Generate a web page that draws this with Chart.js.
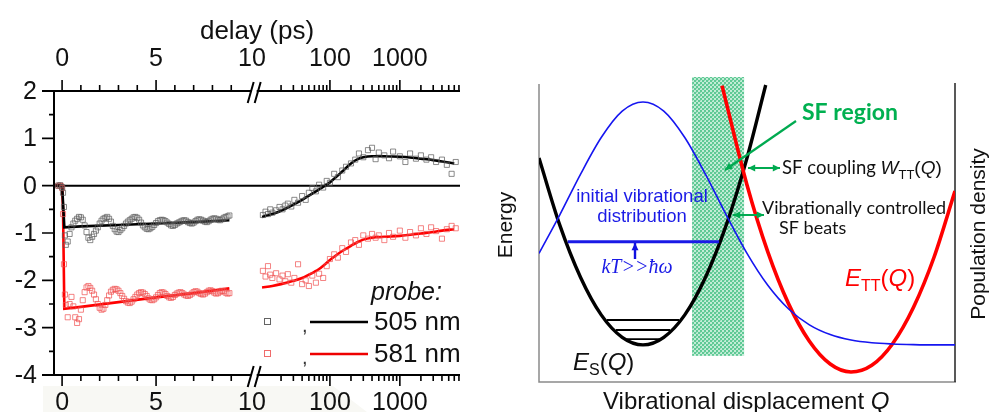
<!DOCTYPE html>
<html lang="en">
<head>
<meta charset="UTF-8">
<title>SF transients and schematic</title>
<script src="https://cdn.jsdelivr.net/npm/chart.js"></script>
<style>
    body { margin: 0; background: #fff; }
    #wrap { position: relative; width: 991px; height: 412px; overflow: hidden; }
    canvas { position: absolute; top: 0; }
    #left { left: 0; }
    #right { left: 490px; }
</style>
</head>
<body>
<div id="wrap">
    <canvas id="left" width="490" height="412"></canvas>
    <canvas id="right" width="501" height="412"></canvas>
</div>
<script>
// ---------- left panel: transient data (delay in ps) ----------
const tShort = [-0.2, -0.1, 0, 0.05, 0.1, 0.15, 0.2, 0.3, 0.4, 0.5, 0.6, 0.7, 0.8, 0.9,
    1.0, 1.1, 1.2, 1.3, 1.4, 1.5, 1.6, 1.7, 1.8, 1.9, 2.0, 2.1, 2.2, 2.3, 2.4, 2.5, 2.6, 2.7, 2.8, 2.9,
    3.0, 3.1, 3.2, 3.3, 3.4, 3.5, 3.6, 3.7, 3.8, 3.9, 4.0, 4.1, 4.2, 4.3, 4.4, 4.5, 4.6, 4.7, 4.8, 4.9,
    5.0, 5.1, 5.2, 5.3, 5.4, 5.5, 5.6, 5.7, 5.8, 5.9, 6.0, 6.1, 6.2, 6.3, 6.4, 6.5, 6.6, 6.7, 6.8, 6.9,
    7.0, 7.1, 7.2, 7.3, 7.4, 7.5, 7.6, 7.7, 7.8, 7.9, 8.0, 8.1, 8.2, 8.3, 8.4, 8.5, 8.6, 8.7, 8.8, 8.9];
const probe505Short = [0.00, 0.01, -0.03, -0.15, -0.45, -1.05, -1.25, -1.18, -1.02, -0.88, -0.80, -0.74, -0.70, -0.66,
    -0.67, -0.72, -0.84, -0.98, -1.10, -1.15, -1.08, -1.02, -0.95, -0.88, -0.80, -0.74, -0.70, -0.68, -0.66, -0.70, -0.76, -0.85, -0.92, -0.97,
    -0.98, -0.94, -0.90, -0.85, -0.80, -0.76, -0.73, -0.70, -0.67, -0.66, -0.68, -0.72, -0.78, -0.84, -0.88, -0.91, -0.92, -0.90, -0.87, -0.83,
    -0.79, -0.75, -0.73, -0.72, -0.73, -0.75, -0.78, -0.81, -0.84, -0.85, -0.83, -0.80, -0.78, -0.76, -0.74, -0.73, -0.74, -0.77, -0.79, -0.80,
    -0.78, -0.75, -0.72, -0.71, -0.72, -0.74, -0.76, -0.77, -0.75, -0.72, -0.70, -0.69, -0.70, -0.72, -0.73, -0.71, -0.68, -0.66, -0.65, -0.63];
const probe581Short = [0.00, 0.00, -0.05, -0.60, -1.66, -2.30, -2.52, -2.78, -2.50, -2.35, -2.55, -2.78, -2.90, -2.82,
    -2.62, -2.42, -2.25, -2.15, -2.12, -2.16, -2.22, -2.30, -2.40, -2.50, -2.58, -2.62, -2.60, -2.52, -2.42, -2.32, -2.24, -2.20, -2.18, -2.19,
    -2.22, -2.27, -2.33, -2.39, -2.44, -2.47, -2.48, -2.45, -2.40, -2.35, -2.30, -2.27, -2.25, -2.26, -2.29, -2.33, -2.38, -2.41, -2.42, -2.40,
    -2.36, -2.31, -2.27, -2.25, -2.26, -2.29, -2.33, -2.36, -2.37, -2.35, -2.31, -2.28, -2.26, -2.25, -2.27, -2.30, -2.32, -2.33, -2.31, -2.28,
    -2.25, -2.23, -2.24, -2.27, -2.29, -2.30, -2.28, -2.25, -2.22, -2.21, -2.23, -2.26, -2.28, -2.27, -2.24, -2.22, -2.23, -2.26, -2.28, -2.27];

const tLong = [11, 12, 13, 14, 15, 17, 19, 21, 23, 25, 28, 31, 35, 40, 45, 50, 56, 63, 70, 80, 90, 100,
    115, 130, 150, 170, 200, 230, 260, 300, 350, 400, 450, 500, 600, 700, 800, 1000,
    1200, 1400, 1700, 2000, 2400, 2800, 3300, 4000, 4700, 5500, 6300];
const probe505Long = [-0.62, -0.55, -0.60, -0.50, -0.57, -0.52, -0.45, -0.50, -0.42, -0.38, -0.44, -0.30, -0.36, -0.22, -0.30, -0.15, -0.05, -0.12, 0.02, -0.04, 0.10, 0.06,
    0.25, 0.18, 0.32, 0.40, 0.47, 0.55, 0.68, 0.60, 0.75, 0.80, 0.56, 0.70, 0.64, 0.58, 0.72, 0.62,
    0.50, 0.68, 0.57, 0.64, 0.55, 0.60, 0.50, 0.55, 0.44, 0.25, 0.50];
const probe581Long = [-1.80, -1.92, -1.70, -1.88, -1.95, -1.85, -1.98, -1.90, -2.02, -1.87, -2.05, -1.95, -1.66, -2.08, -2.00, -2.12, -1.90, -2.05, -1.86, -1.95, -1.70, -1.55,
    -1.45, -1.52, -1.32, -1.40, -1.20, -1.15, -1.25, -1.05, -1.12, -1.02, -1.10, -1.05, -1.15, -1.00, -1.08, -0.95,
    -1.10, -0.98, -1.05, -0.90, -1.02, -0.88, -0.96, -1.12, -0.92, -0.85, -0.90];

const fitShortT = [-0.4, 0, 0.05, 0.12, 1, 3, 5, 7, 8.9];
const fit505Short = [0, 0, -0.35, -0.88, -0.86, -0.83, -0.80, -0.77, -0.73];
const fit581Short = [0, 0.02, -0.5, -2.6, -2.56, -2.46, -2.36, -2.27, -2.17];
const fitLongT = [10.7, 15, 20, 30, 40, 50, 60, 70, 85, 100, 120, 150, 200, 250, 300, 400, 600, 1000, 1500, 2000, 3000, 4000, 6000];
const fit505Long = [-0.66, -0.60, -0.53, -0.40, -0.30, -0.21, -0.14, -0.08, 0.00, 0.07, 0.17, 0.30, 0.47, 0.56, 0.60, 0.62, 0.62, 0.61, 0.59, 0.57, 0.54, 0.51, 0.47];
const fit581Long = [-2.15, -2.12, -2.08, -2.01, -1.95, -1.88, -1.82, -1.76, -1.66, -1.57, -1.48, -1.38, -1.27, -1.19, -1.14, -1.10, -1.08, -1.06, -1.03, -1.01, -0.98, -0.95, -0.92];

const yTickValues = [2, 1, 0, -1, -2, -3, -4];
const xTickLabels = ['0', '5', '10', '100', '1000'];
const xTickValues = [0, 5, 10, 100, 1000];
const linMajor = [0, 5];
const linMinor = [1, 2, 3, 4, 6, 7, 8, 9];
const logMajor = [100, 1000];
const logMinor = [20, 30, 40, 50, 60, 70, 80, 90, 200, 300, 400, 500, 600, 700, 800, 900, 2000, 3000, 4000, 5000, 6000, 7000];
const legendLabels = ['505 nm', '581 nm'];

// ---------- right panel: schematic curves (Q and energy in arbitrary units) ----------
const popQ = [0, 5, 10, 15, 20, 25, 30, 35, 40, 45, 50, 55, 60, 65, 70, 75, 80, 85, 90, 95, 100];
const popDensity = [42.3, 55.0, 68.4, 80.5, 89.1, 92.1, 89.1, 80.5, 68.4, 55.0, 42.3, 31.8, 24.0, 18.8, 15.6, 13.8, 12.9, 12.5, 12.3, 12.2, 12.2];
const esQ = [0, 5, 10, 15, 20, 25, 30, 35, 40, 45, 50, 54.5];
const esEnergy = [73.7, 51.6, 34.4, 22.0, 14.7, 12.2, 14.7, 22.0, 34.4, 51.6, 73.7, 97.7];
const ettQ = [44, 50, 55, 60, 65, 70, 75, 80, 85, 90, 95, 100];
const ettEnergy = [97.5, 64.8, 42.8, 25.7, 13.4, 5.9, 3.3, 5.5, 12.6, 24.5, 41.2, 62.8];
const distQ = [6.9, 43.3];
const distEnergy = 46.1;
const levelEnergy = [20.4, 17.1, 14.1];
const levelQStart = [16.3, 18.5, 21.0];
const levelQEnd = [33.7, 31.5, 29.0];
const sfBandQ = [36.8, 49.3];
const sfBandEnergy = [8.6, 100];

const SANS = '"Liberation Sans", Arial, sans-serif';

// broken delay axis: linear up to 10 ps, then log decades
function pos(t) {
    return t <= 10 ? t : 10.53 + (Math.log10(t) - 1) * 3.72;
}
const labelPos = v => (v === 10 ? 10.1 : pos(v));
const pts = (xs, ys) => xs.map((t, i) => ({ x: pos(t), y: ys[i] }));

const leftDecor = {
    id: 'leftDecor',
    beforeDatasetsDraw(chart) {
        const { ctx, chartArea: a, scales: { y } } = chart;
        ctx.save();
        // faint grey scan shadow under the bottom labels
        ctx.fillStyle = '#f8f8f4';
        ctx.beginPath();
        ctx.moveTo(43, 386); ctx.lineTo(333, 386); ctx.lineTo(367, 412); ctx.lineTo(43, 412);
        ctx.closePath();
        ctx.fill();

        ctx.strokeStyle = '#000';
        ctx.lineWidth = 2;
        const y0 = y.getPixelForValue(0);
        ctx.beginPath();
        ctx.moveTo(a.left, y0);
        ctx.lineTo(a.right, y0);
        ctx.stroke();
        ctx.restore();
    },
    afterDraw(chart) {
        const { ctx, chartArea: a, scales: { x, y } } = chart;
        ctx.save();
        ctx.strokeStyle = '#000';
        ctx.fillStyle = '#111';
        ctx.lineWidth = 2;

        // frame (no right side)
        ctx.beginPath();
        ctx.moveTo(a.left - 12, a.top); ctx.lineTo(a.right, a.top);
        ctx.moveTo(a.left - 12, a.bottom); ctx.lineTo(a.right, a.bottom);
        ctx.moveTo(a.left, a.top); ctx.lineTo(a.left, a.bottom);
        ctx.stroke();

        // y ticks
        ctx.lineWidth = 1.6;
        ctx.beginPath();
        for (let v = -3.5; v < 2; v += 1) {
            const py = y.getPixelForValue(v);
            ctx.moveTo(a.left - 5, py); ctx.lineTo(a.left, py);
        }
        for (const v of yTickValues) {
            const py = y.getPixelForValue(v);
            ctx.moveTo(a.left - 12, py); ctx.lineTo(a.left, py);
        }
        ctx.stroke();

        // x ticks: outward on both top and bottom
        const ticks = [];
        linMajor.forEach(v => ticks.push([pos(v), 11]));
        linMinor.forEach(v => ticks.push([pos(v), 6]));
        logMajor.forEach(v => ticks.push([pos(v), 11]));
        logMinor.forEach(v => ticks.push([pos(v), 6]));
        ctx.beginPath();
        for (const [u, len] of ticks) {
            const px = x.getPixelForValue(u);
            ctx.moveTo(px, a.top); ctx.lineTo(px, a.top - len);
            ctx.moveTo(px, a.bottom); ctx.lineTo(px, a.bottom + len);
        }
        ctx.stroke();

        // axis break marks
        const xb = x.getPixelForValue(10.3);
        for (const ay of [a.top, a.bottom]) {
            ctx.fillStyle = '#fff';
            ctx.fillRect(xb - 4, ay - 3, 5, 6);
            ctx.strokeStyle = '#000';
            ctx.lineWidth = 2;
            ctx.beginPath();
            ctx.moveTo(xb - 8, ay + 12); ctx.lineTo(xb - 2, ay - 9);
            ctx.moveTo(xb - 1, ay + 12); ctx.lineTo(xb + 5, ay - 9);
            ctx.stroke();
        }

        // labels
        ctx.fillStyle = '#111';
        ctx.font = '25px ' + SANS;
        ctx.textAlign = 'right';
        ctx.textBaseline = 'middle';
        yTickValues.forEach(v => ctx.fillText(String(v), 37, y.getPixelForValue(v) + 1));
        ctx.textAlign = 'center';
        xTickValues.forEach((v, i) => {
            const px = x.getPixelForValue(labelPos(v));
            ctx.fillText(xTickLabels[i], px, 59);
            ctx.fillText(xTickLabels[i], px, 403);
        });
        ctx.font = '26px ' + SANS;
        ctx.fillText('delay (ps)', 257, 32);

        // legend
        ctx.textAlign = 'left';
        ctx.font = 'italic 25px ' + SANS;
        ctx.fillText('probe:', 371, 293);
        const legY = [322, 354];
        const legCol = ['#000', '#ee0000'];
        const legSym = ['rgba(60,60,60,0.8)', 'rgba(235,70,70,0.8)'];
        legY.forEach((ly, i) => {
            ctx.strokeStyle = legSym[i];
            ctx.lineWidth = 1;
            ctx.strokeRect(264.5, ly - 3.5, 6, 6);
            ctx.fillStyle = '#333';
            ctx.font = '20px ' + SANS;
            ctx.fillText(',', 302, ly + 4);
            ctx.strokeStyle = legCol[i];
            ctx.lineWidth = 2.5;
            ctx.beginPath();
            ctx.moveTo(310, ly); ctx.lineTo(368, ly);
            ctx.stroke();
            ctx.fillStyle = '#111';
            ctx.font = '26px ' + SANS;
            ctx.fillText(legendLabels[i], 374, ly + 1);
        });
        ctx.restore();
    }
};

const scatterStyle = col => ({
    showLine: false, pointStyle: 'rect', pointRadius: 3.6, borderWidth: 1,
    borderColor: col, backgroundColor: 'rgba(0,0,0,0)'
});
const fitStyle = (col, smooth) => ({
    showLine: true, pointRadius: 0, borderWidth: 2.6, borderColor: col,
    cubicInterpolationMode: smooth ? 'monotone' : 'default', tension: 0
});

new Chart(document.getElementById('left'), {
    type: 'scatter',
    data: {
        datasets: [
            { data: pts(tShort, probe505Short), ...scatterStyle('rgba(90,90,90,0.7)') },
            { data: pts(tLong, probe505Long), ...scatterStyle('rgba(90,90,90,0.7)') },
            { data: pts(tShort, probe581Short), ...scatterStyle('rgba(240,80,80,0.7)') },
            { data: pts(tLong, probe581Long), ...scatterStyle('rgba(240,80,80,0.7)') },
            { data: pts(fitShortT, fit505Short), ...fitStyle('#000', false) },
            { data: pts(fitLongT, fit505Long), ...fitStyle('#000', true) },
            { data: pts(fitShortT, fit581Short), ...fitStyle('#ff0000', false) },
            { data: pts(fitLongT, fit581Long), ...fitStyle('#ff0000', true) }
        ]
    },
    options: {
        responsive: false,
        animation: false,
        layout: { padding: { left: 54, right: 30, top: 91, bottom: 37 } },
        scales: {
            x: { type: 'linear', min: -0.43, max: 21.17, display: false },
            y: { type: 'linear', min: -4, max: 2, display: false }
        },
        plugins: { legend: { display: false }, tooltip: { enabled: false } }
    },
    plugins: [leftDecor]
});

// ---------- right panel helpers ----------
function arrowHead(ctx, x1, y1, x2, y2, size) {
    const ang = Math.atan2(y2 - y1, x2 - x1);
    ctx.beginPath();
    ctx.moveTo(x2, y2);
    ctx.lineTo(x2 - size * Math.cos(ang - 0.45), y2 - size * Math.sin(ang - 0.45));
    ctx.lineTo(x2 - size * Math.cos(ang + 0.45), y2 - size * Math.sin(ang + 0.45));
    ctx.closePath();
    ctx.fill();
}
function arrow(ctx, x1, y1, x2, y2, col, w, both) {
    ctx.strokeStyle = col;
    ctx.fillStyle = col;
    ctx.lineWidth = w;
    ctx.beginPath();
    ctx.moveTo(x1, y1); ctx.lineTo(x2, y2);
    ctx.stroke();
    arrowHead(ctx, x1, y1, x2, y2, 8);
    if (both) arrowHead(ctx, x2, y2, x1, y1, 8);
}
// parts: [text, font, dy]
function rich(ctx, parts, x, y, col) {
    ctx.fillStyle = col;
    ctx.textAlign = 'left';
    ctx.textBaseline = 'alphabetic';
    let cx = x;
    for (const [t, f, dy] of parts) {
        ctx.font = f;
        ctx.fillText(t, cx, y + (dy || 0));
        cx += ctx.measureText(t).width;
    }
}

function bandPattern(ctx) {
    const c = document.createElement('canvas');
    c.width = 4; c.height = 4;
    const g = c.getContext('2d');
    g.fillStyle = '#c2ecd6';
    g.fillRect(0, 0, 4, 4);
    g.fillStyle = '#5fc995';
    g.fillRect(0, 0, 2, 2);
    g.fillRect(2, 2, 2, 2);
    g.fillStyle = '#8fdab4';
    g.fillRect(2, 0, 1, 1);
    return ctx.createPattern(c, 'repeat');
}

const rightDecor = {
    id: 'rightDecor',
    beforeDatasetsDraw(chart) {
        const { ctx, chartArea: a, scales: { x, y } } = chart;
        ctx.save();
        ctx.fillStyle = bandPattern(ctx);
        const bx0 = x.getPixelForValue(sfBandQ[0]), bx1 = x.getPixelForValue(sfBandQ[1]);
        const by0 = y.getPixelForValue(sfBandEnergy[1]), by1 = y.getPixelForValue(sfBandEnergy[0]);
        ctx.fillRect(bx0, by0 - 1, bx1 - bx0, by1 - by0 + 1);

        ctx.lineWidth = 1.5;
        ctx.strokeStyle = '#8a8a8a';
        ctx.beginPath();
        ctx.moveTo(a.left, a.top + 6); ctx.lineTo(a.left, a.bottom);
        ctx.lineTo(a.right + 1, a.bottom);
        ctx.stroke();
        ctx.strokeStyle = '#222';
        ctx.beginPath();
        ctx.moveTo(a.right, a.top + 5); ctx.lineTo(a.right, a.bottom);
        ctx.stroke();
        ctx.restore();
    },
    afterDraw(chart) {
        const { ctx } = chart;
        ctx.save();
        ctx.translate(-490, 0);   // draw annotations in page coordinates

        const green = '#00aa50';
        arrow(ctx, 796, 121, 725, 170, green, 2.2, false);
        arrow(ctx, 748, 168, 780, 168, green, 2, true);
        arrow(ctx, 733, 215, 764, 215, green, 2, true);
        arrow(ctx, 635, 259, 635, 243, '#1010e0', 2.4, false);

        ctx.fillStyle = '#00b050';
        ctx.font = 'bold 23px Lato, ' + SANS;
        ctx.textAlign = 'left';
        ctx.textBaseline = 'middle';
        ctx.fillText('SF region', 802, 113);

        ctx.fillStyle = '#111';
        ctx.font = '18px Lato, ' + SANS;
        ctx.fillText('Vibrationally controlled', 762, 208);
        ctx.fillText('SF beats', 779, 228);
        rich(ctx, [['SF coupling ', '18.5px Lato, ' + SANS], ['W', 'italic 19px ' + SANS],
            ['TT', '13px ' + SANS, 5], ['(', '19px ' + SANS], ['Q', 'italic 19px ' + SANS], [')', '19px ' + SANS]],
            782, 174, '#111');

        ctx.fillStyle = '#1a1ae6';
        ctx.font = '18.5px ' + SANS;
        ctx.textAlign = 'center';
        ctx.textBaseline = 'middle';
        ctx.fillText('initial vibrational', 642, 197);
        ctx.fillText('distribution', 642, 217);
        ctx.font = 'italic 20px "Liberation Serif", serif';
        ctx.fillText('kT>>ħω', 637, 268);

        rich(ctx, [['E', 'italic 24px ' + SANS], ['S', '16px ' + SANS, 5], ['(', '24px ' + SANS],
            ['Q', 'italic 24px ' + SANS], [')', '24px ' + SANS]], 573, 370, '#111');
        rich(ctx, [['E', 'italic 24px ' + SANS], ['TT', '16px ' + SANS, 5], ['(', '24px ' + SANS],
            ['Q', 'italic 24px ' + SANS], [')', '24px ' + SANS]], 845, 286, '#ff0000');

        rich(ctx, [['Vibrational displacement ', '24px ' + SANS], ['Q', 'italic 24px ' + SANS]], 603, 409, '#111');

        ctx.fillStyle = '#111';
        ctx.font = '21px ' + SANS;
        ctx.textAlign = 'center';
        ctx.textBaseline = 'middle';
        ctx.save();
        ctx.translate(506, 225);
        ctx.rotate(-Math.PI / 2);
        ctx.fillText('Energy', 0, 0);
        ctx.restore();
        ctx.save();
        ctx.translate(979, 234);
        ctx.rotate(-Math.PI / 2);
        ctx.fillText('Population density', 0, 0);
        ctx.restore();

        ctx.restore();
    }
};

const curve = (xs, ys, col, w) => ({
    data: xs.map((q, i) => ({ x: q, y: ys[i] })),
    showLine: true, pointRadius: 0, borderColor: col, borderWidth: w,
    cubicInterpolationMode: 'monotone'
});
const levelSets = levelEnergy.map((e, i) => ({
    data: [{ x: levelQStart[i], y: e }, { x: levelQEnd[i], y: e }],
    showLine: true, pointRadius: 0, borderColor: '#000', borderWidth: 1.8
}));

new Chart(document.getElementById('right'), {
    type: 'scatter',
    data: {
        datasets: [
            curve(popQ, popDensity, '#1515f0', 1.6),
            { data: distQ.map(q => ({ x: q, y: distEnergy })), showLine: true, pointRadius: 0,
              borderColor: '#1a1ae6', borderWidth: 3 },
            ...levelSets,
            curve(ettQ, ettEnergy, '#ff0000', 3.6),
            curve(esQ, esEnergy, '#000', 3.4)
        ]
    },
    options: {
        responsive: false,
        animation: false,
        layout: { padding: { left: 49, right: 36, top: 78, bottom: 30 } },
        scales: {
            x: { type: 'linear', min: 0, max: 100, display: false },
            y: { type: 'linear', min: 0, max: 100, display: false }
        },
        plugins: { legend: { display: false }, tooltip: { enabled: false } }
    },
    plugins: [rightDecor]
});
</script>
</body>
</html>
